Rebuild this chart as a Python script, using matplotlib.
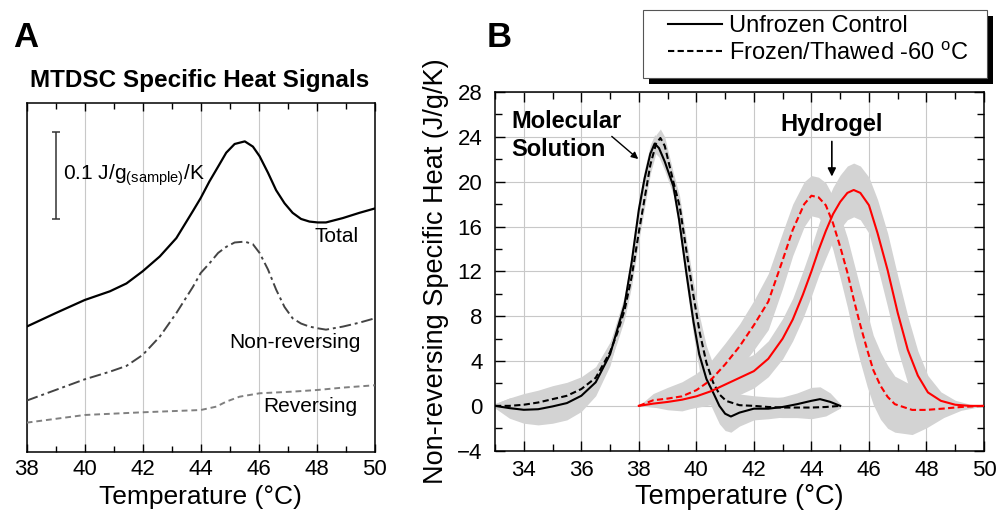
import matplotlib
matplotlib.use("Agg")
import matplotlib.pyplot as plt
from matplotlib.lines import Line2D
from matplotlib.patches import Rectangle
import numpy as np

plt.rcParams['font.family'] = ['Liberation Sans', 'DejaVu Sans']

# ---- Panel A: MTDSC signals (J/g/K, arbitrary offset) ----
tA = [38.0, 39.0, 40.0, 40.87, 41.44, 42.0, 42.59, 43.16, 43.73, 44.0, 44.3,
      44.6, 44.88, 45.17, 45.52, 45.8, 46.03, 46.32, 46.6, 46.89, 47.17, 47.46,
      47.75, 48.03, 48.32, 48.9, 49.47, 50.0]
total = [0.1435, 0.159, 0.174, 0.184, 0.193, 0.207, 0.224, 0.245, 0.276, 0.291,
         0.310, 0.327, 0.343, 0.353, 0.356, 0.350, 0.339, 0.320, 0.300, 0.285,
         0.274, 0.267, 0.264, 0.263, 0.263, 0.268, 0.274, 0.279]
nonrev = [0.0586, 0.0708, 0.0830, 0.0918, 0.0984, 0.111, 0.132, 0.159, 0.189,
          0.205, 0.216, 0.228, 0.235, 0.240, 0.241, 0.238, 0.228, 0.209, 0.186,
          0.166, 0.153, 0.147, 0.1435, 0.1416, 0.140, 0.1435, 0.148, 0.153]
tA_rev = [38.0, 40.0, 42.0, 44.0, 44.54, 44.88, 45.34, 46.03, 47.17, 48.03,
          48.9, 50.0]
rev = [0.0333, 0.0421, 0.0452, 0.0478, 0.0517, 0.0574, 0.0631, 0.0670, 0.0689,
       0.0708, 0.0735, 0.0762]

# ---- Panel B: non-reversing specific heat ----
t_sol = [33.0, 33.5, 34.0, 34.5, 35.0, 35.5, 36.0, 36.5, 37.0, 37.25, 37.5,
         37.75, 38.0, 38.2, 38.4, 38.55, 38.7, 38.9, 39.2, 39.4, 39.65, 39.9,
         40.1, 40.35, 40.6, 40.8, 41.0, 41.2, 41.5, 42.0, 42.5, 43.0, 43.5,
         44.0, 44.3, 44.65, 45.0]
sol_ctrl = [0.0, -0.2, -0.35, -0.3, -0.05, 0.25, 0.9, 2.1, 4.6, 6.8, 9.0,
            12.8, 17.5, 20.3, 22.5, 23.4, 23.0, 21.8, 19.6, 16.6, 11.9, 7.5,
            4.6, 2.4, 1.1, 0.0, -0.7, -0.95, -0.6, -0.25, -0.25, -0.1, 0.15,
            0.45, 0.6, 0.36, 0.0]
sol_ctrl_sd = [0.2, 0.9, 1.2, 1.4, 1.5, 1.5, 1.4, 1.2, 1.0, 0.9, 0.8,
               0.8, 0.8, 0.8, 0.8, 0.8, 0.8, 0.8, 0.8, 0.9, 1.0, 1.2,
               1.4, 1.5, 1.6, 1.6, 1.5, 1.4, 1.2, 1.0, 0.9, 0.9, 1.0,
               1.2, 1.1, 0.8, 0.2]

t_sol_ft = [33.0, 33.5, 34.0, 34.5, 35.0, 35.5, 36.0, 36.5, 37.0, 37.25, 37.5,
            37.75, 38.0, 38.2, 38.4, 38.6, 38.75, 38.9, 39.2, 39.42, 39.65,
            39.88, 40.12, 40.35, 40.58, 40.81, 41.04, 41.5, 42.0, 42.5, 43.0,
            43.5, 44.0, 44.5, 45.0]
sol_ft = [0.0, 0.0, 0.1, 0.3, 0.6, 0.9, 1.5, 2.5, 4.8, 6.5, 8.5,
          11.5, 15.5, 18.5, 21.5, 23.4, 23.9, 23.2, 20.0, 17.8, 13.9,
          10.1, 6.5, 3.85, 2.1, 1.0, 0.44, 0.06, 0.0, -0.1, -0.15,
          -0.15, -0.15, -0.1, 0.0]
sol_ft_sd = [0.2, 0.7, 1.0, 1.1, 1.2, 1.2, 1.1, 1.0, 0.9, 0.8, 0.8,
             0.8, 0.8, 0.8, 0.8, 0.8, 0.8, 0.8, 0.8, 0.9, 1.0,
             1.2, 1.4, 1.5, 1.6, 1.5, 1.3, 1.0, 0.9, 0.9, 0.9,
             0.9, 1.0, 0.8, 0.2]

t_gel = [38.0, 38.5, 39.0, 39.5, 40.0, 40.5, 41.0, 41.5, 42.0, 42.5, 43.0,
         43.35, 43.7, 44.0, 44.25, 44.5, 44.75, 45.0, 45.25, 45.47, 45.7,
         46.0, 46.3, 46.65, 47.0, 47.35, 47.7, 48.05, 48.5, 49.0, 49.5, 50.0]
gel_ctrl = [0.0, 0.2, 0.35, 0.55, 0.85, 1.3, 1.9, 2.5, 3.1, 4.2, 6.0,
            7.7, 9.9, 12.0, 13.9, 15.6, 17.1, 18.2, 19.0, 19.26, 19.0,
            17.9, 15.4, 12.1, 8.3, 5.0, 2.7, 1.2, 0.45, 0.1, 0.0, 0.0]
gel_ctrl_sd = [0.0, 0.3, 0.5, 0.8, 1.0, 1.2, 1.4, 1.5, 1.5, 1.6, 1.8,
               1.9, 2.1, 2.2, 2.3, 2.4, 2.4, 2.4, 2.4, 2.4, 2.4,
               2.5, 3.0, 3.3, 3.3, 3.0, 2.2, 1.5, 0.8, 0.4, 0.15, 0.0]

t_gel_ft = [38.0, 38.5, 39.0, 39.5, 40.0, 40.5, 41.0, 41.5, 42.0, 42.5, 43.0,
            43.35, 43.75, 44.0, 44.25, 44.5, 44.75, 45.0, 45.25, 45.47, 45.7,
            45.94, 46.15, 46.4, 46.65, 46.9, 47.5, 48.0, 48.6, 49.2, 50.0]
gel_ft = [0.0, 0.5, 0.65, 0.85, 1.4, 2.3, 3.7, 5.3, 7.2, 9.3, 13.0,
          15.7, 18.0, 18.75, 18.6, 17.9, 16.3, 14.2, 11.9, 9.5, 7.2,
          5.0, 3.2, 1.8, 0.8, 0.15, -0.36, -0.36, -0.24, -0.1, 0.0]
gel_ft_sd = [0.0, 0.6, 1.0, 1.3, 1.5, 1.7, 1.9, 2.0, 2.2, 2.5, 2.5,
             2.3, 2.0, 1.8, 1.8, 2.0, 2.4, 2.8, 3.1, 3.3, 3.3,
             3.3, 3.1, 3.0, 2.8, 2.5, 2.2, 1.6, 0.8, 0.3, 0.0]

band = '#d3d3d3'
gridc = '#c8c8c8'

fig = plt.figure(figsize=(9.99, 5.19), dpi=100)
axA = fig.add_axes([0.0267, 0.1297, 0.3484, 0.6718])
axB = fig.add_axes([0.4955, 0.1316, 0.4895, 0.6911])

# ---------------- Panel A ----------------
axA.plot(tA, total, color='black', lw=1.6, zorder=3)
axA.plot(tA, nonrev, color='#444444', lw=1.4, ls=(0, (6, 2, 1.5, 2)), zorder=3)
axA.plot(tA_rev, rev, color='#808080', lw=1.4, ls=(0, (3, 2)), zorder=3)
axA.set_xlim(38, 50)
axA.set_ylim(0, 0.4)
axA.set_xticks(np.arange(38, 51, 2))
axA.set_xticks(np.arange(38, 51, 1), minor=True)
axA.set_yticks([])
axA.grid(axis='x', which='major', color=gridc, lw=0.8)
axA.tick_params(axis='x', which='both', direction='in', top=True,
                labelsize=16, pad=5)
axA.tick_params(axis='x', which='major', length=6, width=1)
axA.tick_params(axis='x', which='minor', length=4, width=1)
for s in axA.spines.values():
    s.set_linewidth(1.1)
axA.set_xlabel('Temperature (°C)', fontsize=19, labelpad=4)

axA.text(49.45, 0.240, 'Total', ha='right', va='baseline', fontsize=15)
axA.text(49.53, 0.1187, 'Non-reversing', ha='right', va='baseline', fontsize=15)
axA.text(49.39, 0.0459, 'Reversing', ha='right', va='baseline', fontsize=15)
axA.errorbar([39.01], [0.317], yerr=[0.05], color='#333333', lw=1.1,
             capsize=3, capthick=1.1)
axA.text(39.26, 0.312, r'0.1 J/g$_{\mathregular{(sample)}}$/K', ha='left',
         va='baseline', fontsize=15)

fig.text(200 / 999, 1 - 87.3 / 519, 'MTDSC Specific Heat Signals',
         ha='center', va='baseline', fontsize=17.5, fontweight='bold')
fig.text(13.3 / 999, 1 - 46.7 / 519, 'A', ha='left', va='baseline',
         fontsize=25, fontweight='bold')
fig.text(486.7 / 999, 1 - 46.7 / 519, 'B', ha='left', va='baseline',
         fontsize=25, fontweight='bold')

# ---------------- Panel B ----------------
for t, y, sd in [(t_sol, sol_ctrl, sol_ctrl_sd), (t_sol_ft, sol_ft, sol_ft_sd),
                 (t_gel, gel_ctrl, gel_ctrl_sd), (t_gel_ft, gel_ft, gel_ft_sd)]:
    y = np.array(y)
    sd = np.array(sd)
    axB.fill_between(t, y - sd, y + sd, color=band, lw=0, zorder=1)

axB.plot(t_sol, sol_ctrl, color='black', lw=1.5, zorder=3)
axB.plot(t_sol_ft, sol_ft, color='black', lw=1.5, ls=(0, (3, 1.6)), zorder=3)
axB.plot(t_gel, gel_ctrl, color='red', lw=1.5, zorder=3)
axB.plot(t_gel_ft, gel_ft, color='red', lw=1.5, ls=(0, (3, 1.6)), zorder=3)

axB.set_xlim(33, 50)
axB.set_ylim(-4, 28)
axB.set_xticks(np.arange(34, 51, 2))
axB.set_xticks(np.arange(33, 51, 1), minor=True)
axB.set_yticks(np.arange(-4, 29, 4))
axB.set_yticks(np.arange(-4, 29, 2), minor=True)
axB.grid(which='major', color=gridc, lw=0.8, zorder=0)
axB.set_axisbelow(True)
axB.tick_params(which='both', direction='in', top=True, right=True,
                labelsize=16)
axB.tick_params(axis='x', pad=6.5)
axB.tick_params(axis='y', pad=9)
axB.tick_params(which='major', length=7, width=1)
axB.tick_params(which='minor', length=5, width=1)
for s in axB.spines.values():
    s.set_linewidth(1.1)
axB.set_xlabel('Temperature (°C)', fontsize=19.5, labelpad=2)
axB.set_ylabel('Non-reversing Specific Heat (J/g/K)', fontsize=19.5,
               labelpad=6)

axB.text(33.58, 24.79, 'Molecular', ha='left', va='baseline', fontsize=17,
         fontweight='bold')
axB.text(33.58, 22.31, 'Solution', ha='left', va='baseline', fontsize=17,
         fontweight='bold')
axB.annotate('', xy=(37.98, 22.02), xytext=(37.06, 24.04),
             arrowprops=dict(arrowstyle='-|>', color='black', lw=1,
                             mutation_scale=10, shrinkA=0, shrinkB=0))
axB.text(44.71, 24.48, 'Hydrogel', ha='center', va='baseline', fontsize=17,
         fontweight='bold')
axB.annotate('', xy=(44.71, 20.46), xytext=(44.71, 23.59),
             arrowprops=dict(arrowstyle='-|>', color='black', lw=1.2,
                             mutation_scale=12, shrinkA=0, shrinkB=0))

# legend: frame and black drop shadow drawn in pixel coordinates
H = 519
fig.add_artist(Rectangle((649.3, H - 84.3), 344, 68.3, transform=None,
                         facecolor='black', edgecolor='none', zorder=8))
fig.add_artist(Rectangle((643.3, H - 78.3), 344, 68.3, transform=None,
                         facecolor='white', edgecolor='#555555', lw=0.8,
                         zorder=9))
handles = [Line2D([], [], color='black', lw=1.5),
           Line2D([], [], color='black', lw=1.5, ls=(0, (3, 1.6)))]
leg = fig.legend(handles, ['Unfrozen Control', 'Frozen/Thawed -60 $^{\\mathregular{o}}$C'],
                 loc='upper left', bbox_to_anchor=(668 / 999, 1 - 15 / 519),
                 fontsize=17, frameon=False, handlelength=2.3,
                 handletextpad=0.28, borderpad=0, labelspacing=0.2,
                 borderaxespad=0)
leg.set_zorder(10)

fig.savefig('out.png', dpi=100)
